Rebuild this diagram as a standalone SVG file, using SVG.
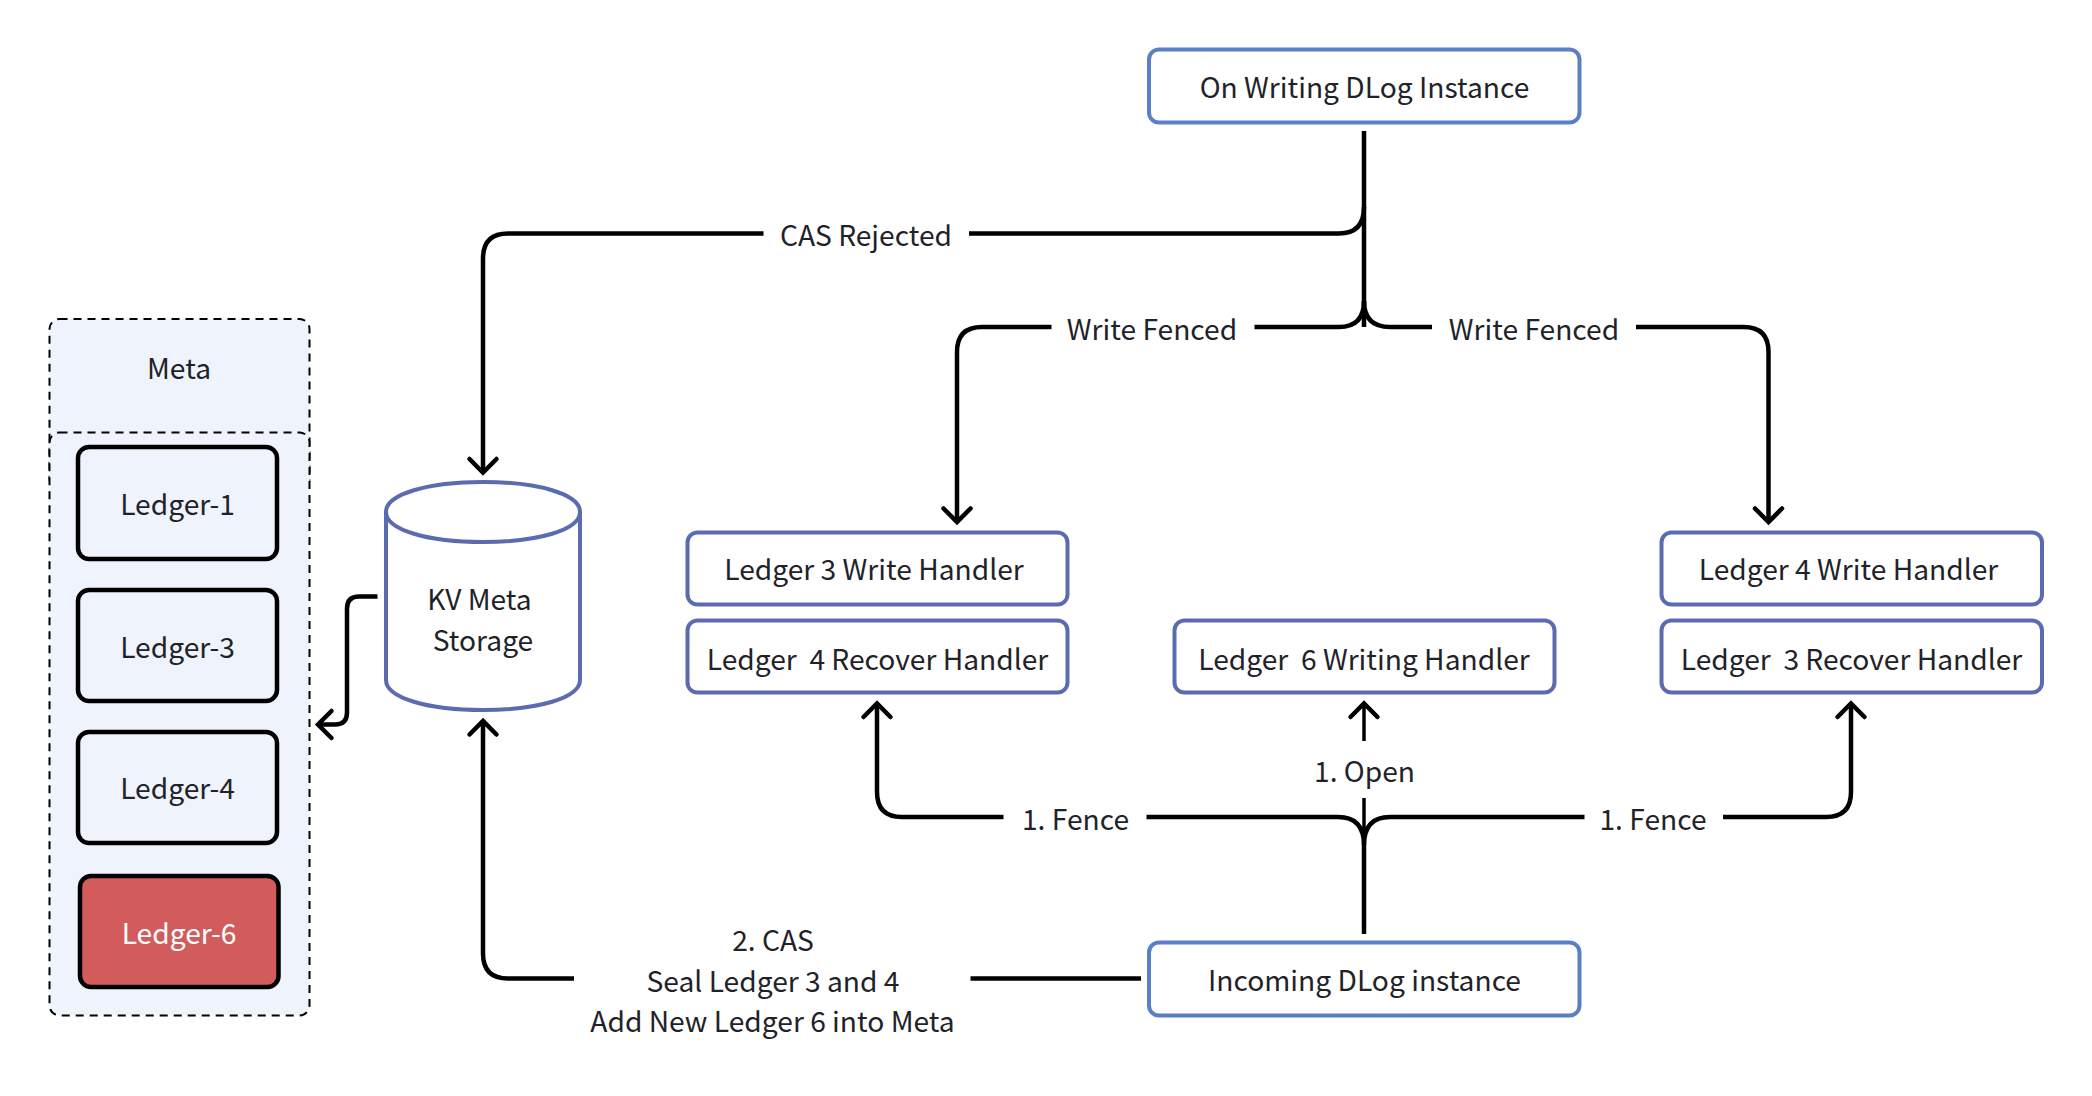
<svg xmlns="http://www.w3.org/2000/svg" width="2092" height="1096" viewBox="0 0 2092 1096">
<defs>
<marker id="arrow" markerUnits="userSpaceOnUse" markerWidth="40" markerHeight="40" refX="20" refY="20" orient="auto" overflow="visible">
<path d="M6.500 6.500L20 20L6.500 33.500" fill="none" stroke="#000" stroke-width="4.500" stroke-linecap="round" stroke-linejoin="miter"/>
</marker>
</defs>
<style>
text{font-family:"Noto Sans CJK SC","Noto Sans",sans-serif;font-size:28.200px;fill:#1f2329;text-anchor:middle}
.blue{fill:#fff;stroke:#5a7fc7;stroke-width:4}
.hand{fill:#fff;stroke:#5a6bb0;stroke-width:4}
.led{fill:#eff3fb;stroke:#000;stroke-width:4.500}
.dash{fill:#eff3fb;stroke:#000;stroke-width:2;stroke-dasharray:8 6}
.c{fill:none;stroke:#000;stroke-width:4.500}
.thin{stroke-width:3.500}
.a{marker-end:url(#arrow)}
</style>
<rect width="2092" height="1096" fill="#fff"/>
<g id="connectors">
<path class="c" d="M1364 131V327"/>
<path class="c" d="M969 233.500H1339Q1364 233.500 1364 207"/>
<path class="c a" d="M763.500 233.500H508Q483 233.500 483 258.500V472.500"/>
<path class="c" d="M1254.500 327H1339Q1364 327 1364 301"/>
<path class="c a" d="M1051.500 327H982Q957 327 957 352V522"/>
<path class="c" d="M1432 327H1390Q1364 327 1364 301"/>
<path class="c a" d="M1636 327H1743.500Q1768.500 327 1768.500 352V522"/>
<path class="c" d="M1364 934V845Q1364 817 1338 817H1146.500"/>
<path class="c" d="M1364 845Q1364 817 1390 817H1584.500"/>
<path class="c a" d="M1003.500 817H902Q877 817 877 792V703.500"/>
<path class="c a" d="M1723 817H1826Q1851 817 1851 792V703.500"/>
<path class="c thin" d="M1364 798V850"/>
<path class="c thin a" d="M1364 741V703.500"/>
<path class="c" d="M1141 978.500H970.500"/>
<path class="c a" d="M574 978.500H508Q483 978.500 483 953.500V721"/>
<path class="c a" d="M377.500 596.500H359Q347 596.500 347 608.500V712.500Q347 724.500 335 724.500H318"/>
</g>
<g id="meta">
<rect class="dash" x="49.500" y="319" width="260" height="170" rx="10"/>
<rect class="dash" x="49.500" y="432.500" width="260" height="583" rx="10"/>
<text x="179" y="379">Meta</text>
</g>
<g id="ledger-1"><rect class="led" x="78" y="447" width="199" height="112" rx="11"/><text x="177.500" y="515">Ledger-1</text></g>
<g id="ledger-3"><rect class="led" x="78" y="590" width="199" height="111" rx="11"/><text x="177.500" y="658">Ledger-3</text></g>
<g id="ledger-4"><rect class="led" x="78" y="732" width="199" height="111" rx="11"/><text x="177.500" y="799">Ledger-4</text></g>
<g id="ledger-6"><rect class="led" style="fill:#d25c5c" x="80" y="876" width="198.500" height="111" rx="11"/><text x="179" y="943.500" style="fill:#fff">Ledger-6</text></g>
<g id="kv-meta-storage">
<path class="hand" d="M386 512V680C386 698 428 710 483 710S580 698 580 680V512C580 494 538 482 483 482S386 494 386 512C386 530 428 542 483 542S580 530 580 512"/>
<text x="479.500" y="610">KV Meta</text>
<text x="483" y="651">Storage</text>
</g>
<g id="on-writing"><rect class="blue" x="1149" y="49.500" width="430.500" height="73" rx="10"/><text x="1364.500" y="98">On Writing DLog Instance</text></g>
<g id="incoming"><rect class="blue" x="1149" y="942.500" width="430.500" height="73" rx="10"/><text x="1364.500" y="991">Incoming DLog instance</text></g>
<g id="h3w"><rect class="hand" x="687.500" y="532.500" width="380" height="72" rx="10"/><text x="874" y="580">Ledger 3 Write Handler</text></g>
<g id="h4r"><rect class="hand" x="687.500" y="620.500" width="380" height="72" rx="10"/><text x="877.500" y="669.500" xml:space="preserve">Ledger  4 Recover Handler</text></g>
<g id="h6w"><rect class="hand" x="1174.500" y="620.500" width="380" height="72" rx="10"/><text x="1364" y="669.500" xml:space="preserve">Ledger  6 Writing Handler</text></g>
<g id="h4w"><rect class="hand" x="1661.500" y="532.500" width="380.500" height="72" rx="10"/><text x="1848.500" y="580">Ledger 4 Write Handler</text></g>
<g id="h3r"><rect class="hand" x="1661.500" y="620.500" width="380.500" height="72" rx="10"/><text x="1851.500" y="669.500" xml:space="preserve">Ledger  3 Recover Handler</text></g>
<g id="labels">
<text x="866" y="245.500">CAS Rejected</text>
<text x="1152" y="339.500">Write Fenced</text>
<text x="1534" y="339.500">Write Fenced</text>
<text x="1075.500" y="830">1. Fence</text>
<text x="1653" y="830">1. Fence</text>
<text x="1364.500" y="782">1. Open</text>
<text x="773" y="950.500">2. CAS</text>
<text x="773" y="991.500">Seal Ledger 3 and 4</text>
<text x="772.500" y="1032">Add New Ledger 6 into Meta</text>
</g>
</svg>
